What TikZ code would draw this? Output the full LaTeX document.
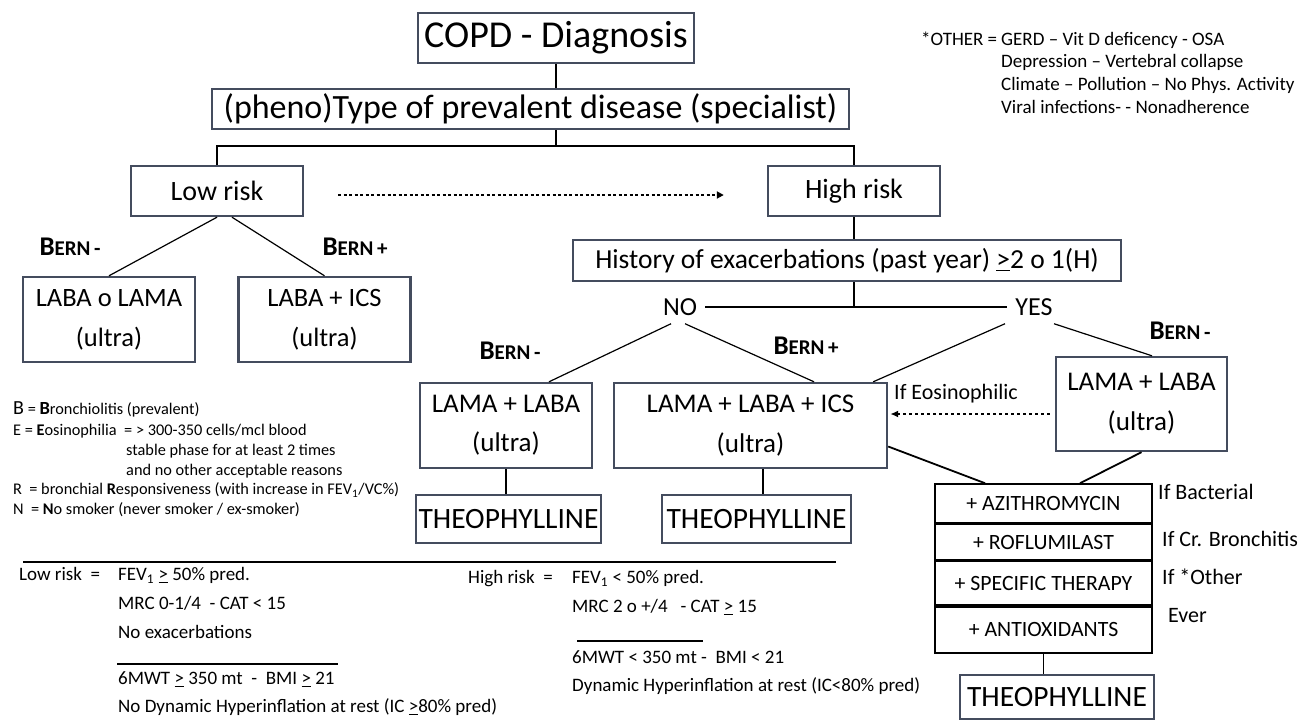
\documentclass[tikz,border=0pt]{standalone}
\usepackage{fontspec}
\setmainfont{Carlito}
\usetikzlibrary{positioning,arrows.meta}
\definecolor{boxgray}{RGB}{68,76,94}
\newcommand{\sz}[2]{\fontsize{#1}{#2}\selectfont}
\newcommand{\atleast}{\underline{>}}
\newcommand{\bern}[1]{\textbf{{\sz{27}{28}B}{\sz{21}{28}ERN}\,#1}}

\begin{document}
\begin{tikzpicture}[x=1pt,y=-1pt,
    box/.style={draw=boxgray,line width=2.4pt,fill=white,align=center,inner sep=0pt},
    cell/.style={draw=black,line width=1.6pt,minimum width=217pt,inner sep=0pt,font=\sz{21.8}{24}},
    lbl/.style={inner sep=0pt,anchor=west,text height=0.75em,text depth=0.25em},
    legend/.style={lbl,font=\sz{16.3}{20}},
    riskdef/.style={lbl,font=\sz{19}{24}},
    other/.style={lbl,font=\sz{19}{23}},
    bernlbl/.style={font=\sz{21}{28}},
    link/.style={line width=1.2pt}]
\useasboundingbox (0,0) rectangle (1306,721);

% top of the tree
\node[box,minimum width=276pt,minimum height=50pt,font=\sz{38}{40}] (copd) at (556,38) {COPD - Diagnosis};
\node[box,minimum width=637pt,minimum height=40pt,font=\sz{34}{36}] (pheno) at (530.5,109) {(pheno)Type of prevalent disease (specialist)};
\node[box,minimum width=172pt,minimum height=50pt,font=\sz{28}{30}] (low) at (217,191) {Low risk};
\node[box,minimum width=172pt,minimum height=50pt,font=\sz{28}{30}] (high) at (854,191) {High risk};
\coordinate (fork) at (556,146);
\draw[link] (copd.south) -- (copd.south |- pheno.north);
\draw[link] (copd.south |- pheno.south) -- (fork);
\draw[link] (low.north) |- (fork) -| (high.north);
\draw[line width=2pt,dash pattern=on 3pt off 2.5pt,-{Triangle[length=7pt,width=7pt]}]
    ([xshift=34pt,yshift=-4pt]low.east) -- ([xshift=-43pt,yshift=-4pt]high.west);

% low risk branch
\node[bernlbl] (bernLa) at (70,247) {\bern{-}};
\node[bernlbl] (bernLb) at (355,247) {\bern{+}};
\node[box,minimum width=172pt,minimum height=85pt,font=\sz{26.5}{40}] (lowA) at (109,319.5) {LABA o LAMA\\(ultra)};
\node[box,minimum width=172pt,minimum height=85pt,font=\sz{26.5}{40}] (lowB) at (324.5,319.5) {LABA + ICS\\(ultra)};
\draw[link] (low.south) -- (lowA.north);
\draw[link] ([xshift=15pt]low.south) -- (lowB.north);

% high risk branch
\node[box,minimum width=548pt,minimum height=41pt,font=\sz{27.5}{30}] (hist) at (847,260.5) {History of exacerbations (past year) \atleast2 o 1(H)};
\node[font=\sz{26}{28},inner sep=8pt] (no) at (680,307) {NO};
\node[font=\sz{26}{28},inner sep=8pt] (yes) at (1034,307) {YES};
\draw[link] (high.south) -- (high.south |- hist.north);
\draw[link] (high.south |- hist.south) -- (high.south |- no.center);
\draw[link] (no.east) -- (yes.west);

\node[bernlbl] (bernHa) at (510,351) {\bern{-}};
\node[bernlbl] (bernHb) at (806,346) {\bern{+}};
\node[bernlbl] (bernHc) at (1180,331) {\bern{-}};
\node[box,minimum width=172pt,minimum height=85pt,font=\sz{27}{39}] (hl) at (506,425.5) {LAMA + LABA\\(ultra)};
\node[box,minimum width=273pt,minimum height=85pt,font=\sz{27}{40}] (hm) at (750.5,425.5) {LAMA + LABA + ICS\\(ultra)};
\node[box,minimum width=171pt,minimum height=94pt,font=\sz{27}{40}] (hr) at (1141.5,404) {LAMA + LABA\\(ultra)};
\draw[link] ([xshift=-9pt]no.south) -- ([xshift=43pt]hl.north);
\draw[link] ([xshift=5pt]no.south) -- ([xshift=63.5pt]hm.north);
\draw[link] ([xshift=-29pt]yes.south) -- ([xshift=-15pt]hm.north east);
\draw[link] ([xshift=20pt]yes.south) -- ([xshift=10.5pt]hr.north);
\node[font=\sz{22}{24}] (eos) at (956,394) {If Eosinophilic};
\draw[line width=1.6pt,dashed,-{Latex[length=8pt,width=7pt]},shorten <=5pt,shorten >=2pt]
    ([yshift=-10pt]hr.west) -- ([yshift=11.5pt]hm.east);

\node[box,minimum width=185pt,minimum height=48pt,font=\sz{29.5}{30}] (theoA) at (508.5,519) {THEOPHYLLINE};
\node[box,minimum width=189pt,minimum height=48pt,font=\sz{29.5}{30}] (theoB) at (756.5,519) {THEOPHYLLINE};
\coordinate (hmfoot) at ([xshift=12.5pt]hm.south);
\draw[link] (hl.south) -- (hl.south |- theoA.north);
\draw[link] (hmfoot) -- (hmfoot |- theoB.north);

% add-on table
\node[cell,minimum height=39pt] (azi) at (1043.5,503.5) {+ AZITHROMYCIN};
\node[cell,minimum height=35pt,below=0pt of azi] (rofl) {+ ROFLUMILAST};
\node[cell,minimum height=44pt,below=0pt of rofl] (spec) {+ SPECIFIC THERAPY};
\node[cell,minimum height=46pt,below=0pt of spec] (antiox) {+ ANTIOXIDANTS};
\draw[line width=1.8pt] ([yshift=-21pt]hm.east) -- ([xshift=-58.5pt]azi.north);
\draw[line width=1.8pt] (hr.south) -- ([xshift=36.5pt]azi.north);
\node[lbl,font=\sz{22}{24}] (ifbac) at (1158,497) {If Bacterial};
\node[lbl,font=\sz{22}{24}] (ifcr) at (1162,544) {If Cr. Bronchitis};
\node[lbl,font=\sz{22}{24}] (ifoth) at (1162,582) {If *Other};
\node[lbl,font=\sz{22}{24}] (ever) at (1168,620) {Ever};
\node[box,minimum width=194pt,minimum height=44pt,font=\sz{29.5}{30}] (theoC) at (1057,697) {THEOPHYLLINE};
\draw[link] (antiox.south) -- (antiox.south |- theoC.north);

% *other list
\node[other] (oth0) at (921,43) {*OTHER =};
\node[other] (oth1) at (1001,43) {GERD -- Vit D deficency - OSA};
\node[other] (oth2) at (1001,65) {Depression -- Vertebral collapse};
\node[other] (oth3) at (1001,88) {Climate -- Pollution -- No Phys. Activity};
\node[other] (oth4) at (1001,111) {Viral infections- - Nonadherence};

% BERN legend
\node[legend] (legB) at (13,412) {{\sz{20}{20}B} = {\sz{18.5}{20}\textbf{B}}ronchiolitis (prevalent)};
\node[legend] (legE) at (13,433) {E = \textbf{E}osinophilia};
\node[legend] (legE1) at (124,433) {= > 300-350 cells/mcl blood};
\node[legend] (legE2) at (126,453) {stable phase for at least 2 times};
\node[legend] (legE3) at (126,473) {and no other acceptable reasons};
\node[legend] (legR) at (13,492) {R\ \ = bronchial \textbf{R}esponsiveness (with increase in FEV\textsubscript{1}/VC\%)};
\node[legend] (legN) at (13,512) {N\ \ = \textbf{N}o smoker (never smoker / ex-smoker)};

% risk definitions
\draw[line width=2pt] (23,562) -- (836,562);
\node[riskdef] (lowdef) at (19,578) {Low risk\ \ =};
\node[riskdef] (low1) at (118,578) {FEV\textsubscript{1} \atleast{} 50\% pred.};
\node[riskdef] (low2) at (118,607) {MRC 0-1/4\ \ - CAT < 15};
\node[riskdef] (low3) at (118,636) {No exacerbations};
\draw[line width=1.2pt] (117,664) -- (338,664);
\node[riskdef] (low4) at (118,682) {6MWT \atleast{} 350 mt\ \ -\ \ BMI \atleast{} 21};
\node[riskdef] (low5) at (118,710) {No Dynamic Hyperinflation at rest (IC \atleast80\% pred)};

\node[riskdef] (highdef) at (468,581) {High risk\ \ =};
\node[riskdef] (high1) at (572,581) {FEV\textsubscript{1} < 50\% pred.};
\node[riskdef] (high2) at (572,610) {MRC 2 o +/4\ \ \ - CAT \atleast{} 15};
\draw[line width=1.2pt] (577,641) -- (703,641);
\node[riskdef] (high3) at (572,661) {6MWT < 350 mt -\ \ BMI < 21};
\node[riskdef] (high4) at (572,689) {Dynamic Hyperinflation at rest (IC<80\% pred)};
\end{tikzpicture}
\end{document}
